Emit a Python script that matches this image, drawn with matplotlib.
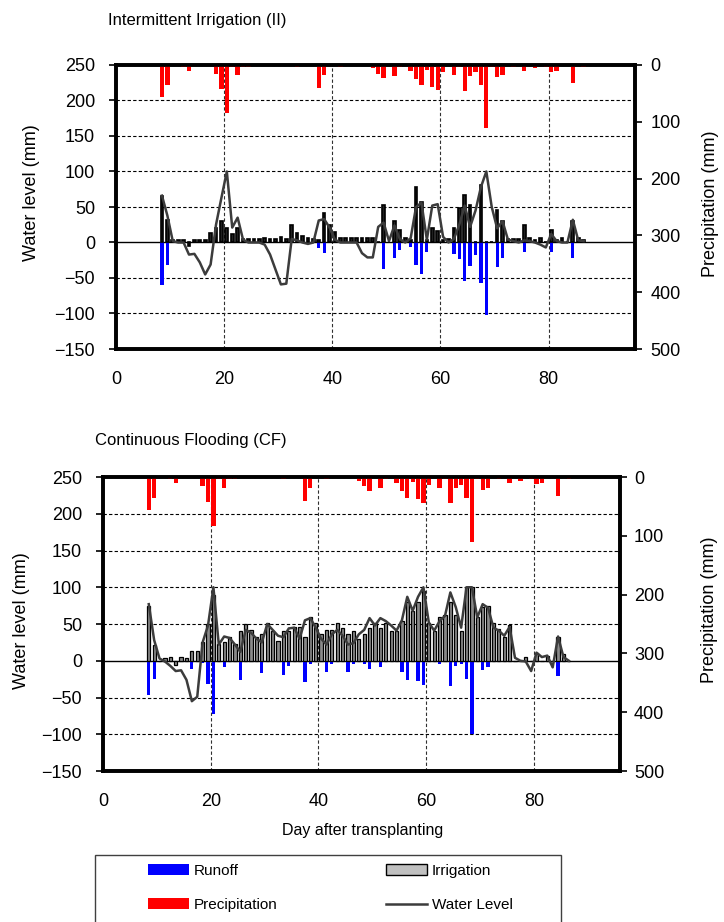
import matplotlib
matplotlib.use('Agg')
import matplotlib.pyplot as plt
from matplotlib.patches import Patch, Rectangle
from matplotlib.lines import Line2D
import numpy as np

plt.rcParams['font.family'] = ['Liberation Sans', 'DejaVu Sans']

# day after transplanting (one value per day, 8..86)
days = list(range(8, 87))

# precipitation (mm), same for both fields
precip = [56, 35, 0, 0, 3, 10, 0, 0, 0, 0,
          15, 43, 84, 3, 18, 3, 3, 0, 0, 0,
          0, 0, 0, 0, 0, 3, 0, 0, 0, 41,
          18, 0, 0, 3, 0, 0, 0, 0, 0, 6,
          16, 23, 0, 19, 4, 0, 10, 24, 35, 9,
          38, 44, 13, 0, 18, 4, 45, 19, 13, 35,
          111, 3, 22, 18, 0, 3, 0, 10, 0, 6,
          0, 3, 12, 10, 0, 0, 32, 0, 3]

# Intermittent Irrigation (II)
ii_irrig = [66, 32, 4, 4, 4, -5, 4, 4, 3, 13,
            20, 30, 21, 12, 21, 5, 5, 5, 5, 7,
            5, 5, 8, 5, 25, 14, 9, 7, 5, 4,
            41, 24, 15, 7, 7, 7, 7, 7, 7, 6,
            0, 53, 0, 30, 18, 6, 4, 78, 57, 3,
            20, 16, 4, 5, 20, 48, 67, 53, 0, 81,
            0, 0, 46, 30, 5, 5, 5, 24, 7, 3,
            7, 0, 18, 4, 7, 0, 30, 7, 3]
ii_runoff = [-60, -32, 0, 0, 0, 0, 0, 0, 0, 0,
             0, 0, 0, 0, 0, 0, 0, 0, 0, 0,
             0, 0, 0, 0, 0, 0, 0, 0, 0, -8,
             -15, 0, 0, 0, 0, 0, 0, 0, 0, 0,
             0, -38, 0, -22, -10, 0, -6, -32, -45, -14,
             0, 0, 0, 0, -16, -23, -54, -33, -18, -57,
             -102, 0, -34, -22, 0, 0, 0, -14, 0, 0,
             0, 0, -13, 0, 0, 0, -22, 0, 0]
ii_water = [66, 38, 2, 0, 0, -17, -16, -28, -45, -31,
            25, 63, 100, 21, 35, 4, 0, 0, 0, -3,
            -17, -38, -59, -58, 5, 3, 0, -2, 0, 31,
            33, 21, 4, 0, 0, 0, 0, -15, -21, -21,
            22, 28, 2, 24, 5, 0, 6, 50, 56, 4,
            52, 54, 8, 0, 5, 25, 52, 22, 45, 78,
            100, 50, 20, 30, 4, 2, 0, 3, 2, 0,
            -3, -7, 12, 2, 0, 0, 32, 3, 2]

# Continuous Flooding (CF)
cf_irrig = [75, 22, 0, 4, 5, -6, 5, 4, 13, 13,
            25, 50, 90, 23, 26, 32, 23, 41, 50, 42,
            32, 37, 52, 41, 27, 41, 41, 46, 46, 32,
            59, 51, 37, 42, 42, 51, 45, 37, 41, 29,
            37, 45, 52, 45, 52, 41, 41, 54, 80, 68,
            80, 95, 52, 41, 59, 62, 80, 62, 41, 100,
            100, 59, 73, 75, 52, 43, 32, 48, 0, 0,
            5, 0, 11, 0, 7, 0, 32, 9, 0]
cf_runoff = [-46, -25, 0, 0, 0, 0, 0, 0, -11, 0,
             -3, -31, -73, 0, -8, 0, 0, -26, 0, 0,
             0, -16, 0, 0, 0, -19, -7, 0, 0, -29,
             -5, 0, 0, -15, -5, 0, 0, -15, -5, 0,
             -5, -11, 0, -8, 0, 0, 0, -15, -26, 0,
             -27, -33, 0, 0, -5, 0, -35, -7, -4, -25,
             -100, 0, -12, -8, 0, 0, 0, 0, 0, 0,
             0, 0, -2, 0, 0, 0, -21, 0, 0]
cf_water = [77, 28, 3, -1, -7, -14, -13, -26, -55, -49,
            25, 48, 100, 22, 33, 31, 22, 12, 42, 38,
            30, 25, 50, 42, 34, 32, 44, 45, 30, 55,
            58, 45, 30, 22, 36, 42, 34, 22, 24, 36,
            42, 58, 48, 58, 54, 48, 41, 55, 87, 68,
            87, 100, 52, 41, 54, 61, 93, 73, 45, 100,
            100, 59, 77, 72, 45, 41, 34, 46, 4, 0,
            -1, -14, 11, 5, 7, -9, 33, 5, 0]

FIG_W, FIG_H = 724, 922
LINE_COL = '#3c3c3c'


def fig_rect(left, top, right, bottom):
    return [left / FIG_W, 1 - bottom / FIG_H,
            (right - left) / FIG_W, (bottom - top) / FIG_H]


def draw_panel(ax, irrig, runoff, water, irr_width, irr_face, irr_lw,
               rpad, wl_pos, pr_pos):
    x = np.array(days) + 0.5
    ax.set_xlim(0, 96)
    ax.set_ylim(-150, 250)
    ax.set_yticks(range(-150, 251, 50))
    ax.set_xticks([0, 20, 40, 60, 80])
    for y in range(-100, 251, 50):
        if y != 0:
            ax.axhline(y, color='black', lw=0.8, ls=(0, (3, 2)), zorder=0)
    for xv in [20, 40, 60, 80]:
        ax.axvline(xv, color='#303030', lw=0.8, ls=(0, (3, 2)), zorder=0)
    ax.axhline(0, color='black', lw=1.0, zorder=1)

    ax.bar(x, runoff, width=0.6, color='#0000ff', zorder=2)
    ax.bar(x, irrig, width=irr_width, facecolor=irr_face,
           edgecolor='black', lw=irr_lw, zorder=2)
    ax.plot(x, water, color=LINE_COL, lw=1.8, zorder=4)

    ax.tick_params(axis='x', length=0, pad=16, labelsize=13)
    ax.tick_params(axis='y', length=5, width=1.2, pad=10, labelsize=13)
    ax.set_ylabel('Water level (mm)', fontsize=13)
    ax.yaxis.set_label_coords(*wl_pos)
    for s in ax.spines.values():
        s.set_linewidth(2.6)

    ax2 = ax.twinx()
    ax2.bar(x, precip, width=0.8, color='#ff0000', zorder=2)
    ax2.set_ylim(500, 0)
    ax2.set_yticks(range(0, 501, 100))
    ax2.tick_params(axis='y', length=5, width=1.2, pad=rpad, labelsize=13)
    ax2.set_ylabel('Precipitation (mm)', fontsize=13)
    ax2.yaxis.set_label_coords(*pr_pos)
    for s in ax2.spines.values():
        s.set_linewidth(2.6)
    return ax2


fig = plt.figure(figsize=(FIG_W / 100, FIG_H / 100), dpi=100)

ax_top = fig.add_axes(fig_rect(116, 65, 635, 349))
draw_panel(ax_top, ii_irrig, ii_runoff, ii_water, 0.5, '#202020', 1.2,
           6, (-0.146, 0.55), (1.13, 0.51))
fig.text(108 / FIG_W, 1 - 21 / FIG_H, 'Intermittent Irrigation (II)',
         fontsize=12, va='center', ha='left')

ax_bot = fig.add_axes(fig_rect(103, 477, 620, 771))
draw_panel(ax_bot, cf_irrig, cf_runoff, cf_water, 0.6, '#8a8a8a', 0.9,
           5, (-0.141, 0.51), (1.156, 0.55))
fig.text(95 / FIG_W, 1 - 440 / FIG_H, 'Continuous Flooding (CF)',
         fontsize=12, va='center', ha='left')
fig.text(363 / FIG_W, 1 - 830 / FIG_H, 'Day after transplanting',
         fontsize=11.5, va='center', ha='center')

# legend box (runs off the bottom of the figure like the original)
fig.add_artist(Rectangle((95 / FIG_W, 1 - 935 / FIG_H),
                         (561 - 95) / FIG_W, (935 - 855) / FIG_H,
                         transform=fig.transFigure, fill=False,
                         edgecolor='#404040', lw=1.0))
handles = [Patch(facecolor='#0000ff'),
           Patch(facecolor='#ff0000'),
           Patch(facecolor='#c0c0c0', edgecolor='black', lw=1.0),
           Line2D([], [], color=LINE_COL, lw=1.8)]
labels = ['Runoff', 'Precipitation', 'Irrigation', 'Water Level']
fig.legend(handles, labels, ncol=2, loc='upper left',
           bbox_to_anchor=(148 / FIG_W, 1 - 864 / FIG_H),
           frameon=False, fontsize=11, handlelength=2.7,
           handletextpad=0.3, columnspacing=7.1, labelspacing=1.3,
           borderpad=0, borderaxespad=0)

fig.savefig('out.png', dpi=100)
